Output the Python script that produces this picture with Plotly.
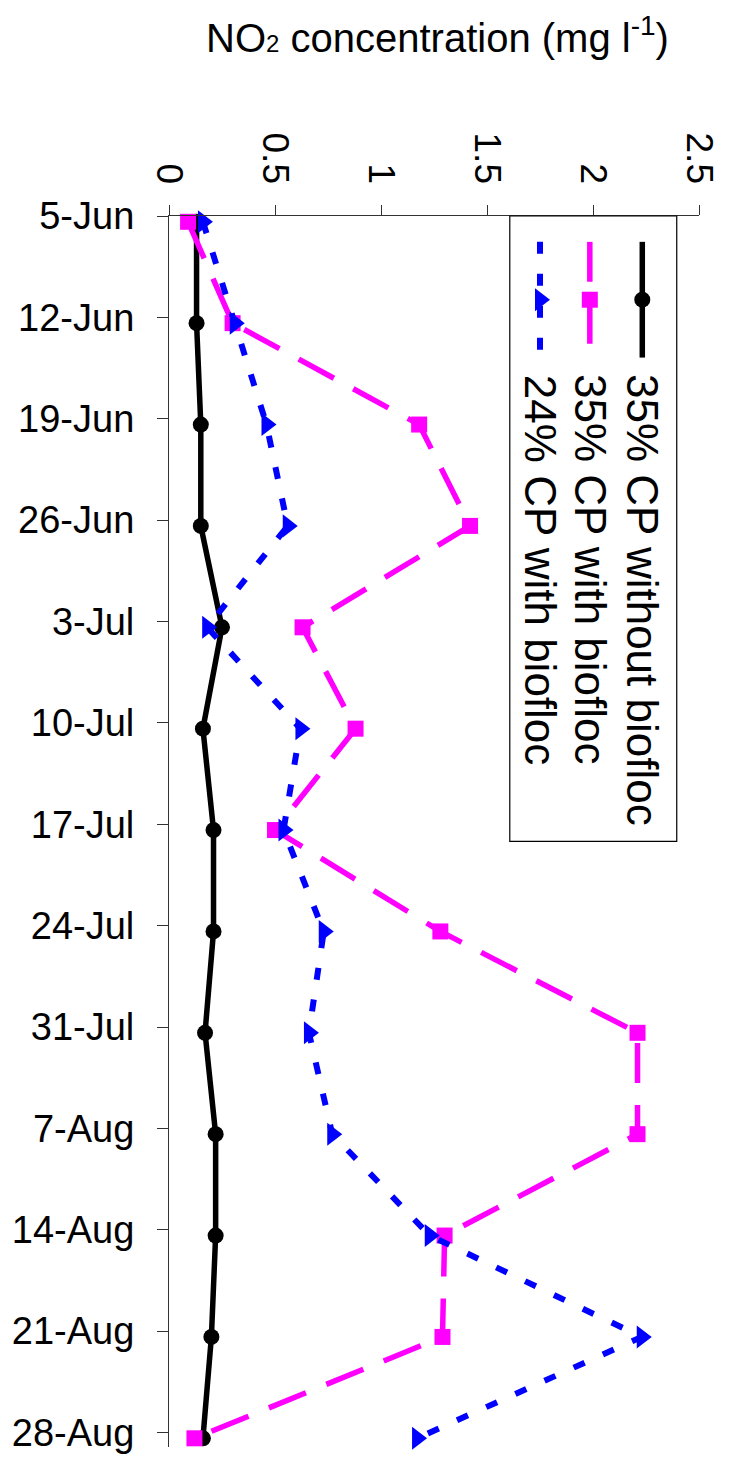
import plotly.graph_objects as go
from datetime import datetime

# ---------------- data ----------------
dates = ['5-Jun', '12-Jun', '19-Jun', '26-Jun', '3-Jul', '10-Jul', '17-Jul',
         '24-Jul', '31-Jul', '7-Aug', '14-Aug', '21-Aug', '28-Aug']
cp35_without_biofloc = [0.13, 0.13, 0.15, 0.15, 0.25, 0.16, 0.21, 0.21, 0.17, 0.22, 0.22, 0.20, 0.16]
cp35_with_biofloc = [0.09, 0.30, 1.18, 1.42, 0.63, 0.88, 0.50, 1.28, 2.21, 2.21, 1.30, 1.29, 0.12]
cp24_with_biofloc = [0.16, 0.31, 0.46, 0.56, 0.18, 0.62, 0.54, 0.73, 0.66, 0.77, 1.23, 2.23, 1.17]
series_names = ['35% CP without biofloc', '35% CP with biofloc', '24% CP with biofloc']
x_ticks = [0, 0.5, 1, 1.5, 2, 2.5]
x_tick_text = ['0', '0.5', '1', '1.5', '2', '2.5']

# days since first sampling date (date axis)
parsed = [datetime.strptime(d + '-2013', '%d-%b-%Y') for d in dates]
days = [(p - parsed[0]).days for p in parsed]

FONT = 'Liberation Sans, Arial, sans-serif'
tick_shift = 0.4  # tick marks sit slightly above the plotted points

fig = go.Figure()

styles = [
    dict(color='#000000', width=5.5, dash='solid', symbol='circle', size=16),
    dict(color='#FF00FF', width=5.5, dash='40px,22px', symbol='square', size=16),
    dict(color='#0000FF', width=6, dash='12px,20px', symbol='triangle-right', size=20),
]
values = [cp35_without_biofloc, cp35_with_biofloc, cp24_with_biofloc]

for name, vals, st in zip(series_names, values, styles):
    fig.add_trace(go.Scatter(
        x=vals, y=days, mode='lines+markers', name=name, showlegend=False,
        line=dict(color=st['color'], width=st['width'], dash=st['dash']),
        marker=dict(symbol=st['symbol'], size=st['size'], color=st['color'],
                    line=dict(width=0)),
        cliponaxis=False,
    ))

# ---------------- rotated legend (overlay axes in plot-area fractions) ----------------
leg_cols = [0.893, 0.794, 0.700]
leg_top, leg_mid, leg_bot = 0.979, 0.932, 0.885
for name, st, cx in zip(series_names, styles, leg_cols):
    fig.add_trace(go.Scatter(
        x=[cx, cx], y=[leg_top, leg_bot], mode='lines', xaxis='x2', yaxis='y2',
        showlegend=False, hoverinfo='skip',
        line=dict(color=st['color'], width=st['width'], dash=st['dash']),
    ))
    fig.add_trace(go.Scatter(
        x=[cx], y=[leg_mid], mode='markers', xaxis='x2', yaxis='y2',
        showlegend=False, hoverinfo='skip',
        marker=dict(symbol=st['symbol'], size=st['size'], color=st['color'], line=dict(width=0)),
    ))
    fig.add_annotation(
        x=cx, y=0.873, xref='x2', yref='y2', text=name, showarrow=False,
        textangle=90, xanchor='center', yanchor='top',
        font=dict(family=FONT, size=44, color='black'),
    )

fig.add_shape(type='rect', xref='paper', yref='paper',
              x0=0.643, x1=0.958, y0=0.492, y1=1.0,
              line=dict(color='black', width=1.2), fillcolor='rgba(0,0,0,0)')

# axis title
fig.add_annotation(
    x=0.5065, y=1.147, xref='paper', yref='paper', showarrow=False,
    text="NO<span style='font-size:24px'>2</span> concentration (mg l<sup>-1</sup>)",
    xanchor='center', yanchor='middle',
    font=dict(family=FONT, size=40, color='black'),
)

fig.update_layout(
    width=732, height=1466,
    margin=dict(l=168, r=23, t=216, b=19, pad=0),
    paper_bgcolor='white', plot_bgcolor='white',
    showlegend=False,
    xaxis=dict(
        range=[0, 2.5], side='top', tickvals=x_ticks, ticktext=x_tick_text,
        tickangle=90, ticks='outside', ticklen=10, tickwidth=1.2, tickcolor='#333',
        showline=True, linecolor='#333', linewidth=1.2, showgrid=False, zeroline=False,
        tickfont=dict(family=FONT, size=37, color='black'), ticklabelstandoff=8,
    ),
    yaxis=dict(
        range=[84.6, -tick_shift], tickvals=[d - tick_shift for d in days], ticktext=dates,
        ticks='outside', ticklen=11, tickwidth=1.2, tickcolor='#333',
        showline=True, linecolor='#333', linewidth=1.2, showgrid=False, zeroline=False,
        tickfont=dict(family=FONT, size=38, color='black'), ticklabelstandoff=15,
    ),
    xaxis2=dict(overlaying='x', range=[0, 1], visible=False),
    yaxis2=dict(overlaying='y', range=[0, 1], visible=False),
)

fig.write_html(
    "out.html",
    config={'displayModeBar': False},
    post_script="document.body.style.margin='0';document.body.style.padding='0';"
                "document.body.style.overflow='hidden';",
)
